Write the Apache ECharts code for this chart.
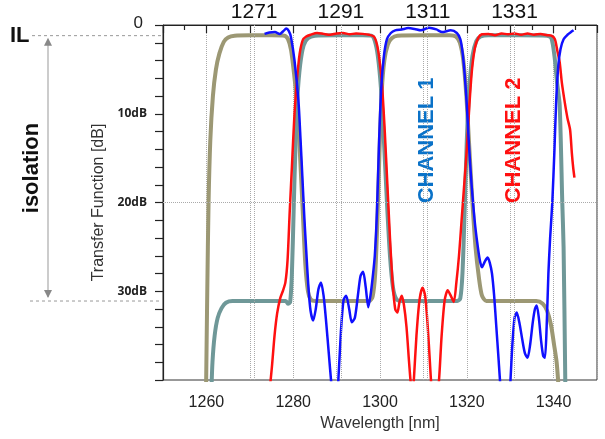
<!DOCTYPE html>
<html>
<head>
<meta charset="utf-8">
<script src="https://cdn.jsdelivr.net/npm/echarts@6/dist/echarts.min.js"></script>
<style>
  html, body { margin: 0; padding: 0; background: #fff; }
  #main { width: 605px; height: 439px; }
</style>
</head>
<body>
<div id="main"></div>
<script>
// channel centre wavelengths (top labels + dotted guides)
const channels = [1271, 1291, 1311, 1331]
const xLabels = [1260, 1280, 1300, 1320, 1340]
const yLabels = [0, 10, 20, 30]
const ilLevel = 1.2
const isoLevel = 31.1

// simulated filter response, channel 1 (olive)
const ch1Model = [
  [1259.9, 42], [1260.2, 30], [1260.5, 20], [1260.9, 13], [1261.5, 8], [1262.2, 5], [1263, 3.2],
  [1264, 1.9], [1265, 1.4], [1266.5, 1.2], [1270, 1.15], [1275, 1.15], [1278, 1.2], [1278.8, 1.6],
  [1279.5, 2.8], [1280.2, 5.5], [1280.8, 8.5], [1281.5, 14], [1282.2, 21], [1282.8, 27], [1283.4, 30],
  [1284, 30.9], [1285, 31.1], [1290, 31.1], [1295, 31.1], [1297.5, 31.1], [1298.3, 30.6], [1298.9, 28],
  [1299.4, 22], [1299.9, 14], [1300.4, 7.5], [1301, 4], [1301.8, 2.2], [1302.7, 1.5], [1304, 1.2],
  [1310, 1.15], [1316, 1.15], [1317.5, 1.3], [1318.4, 2], [1319.2, 4], [1319.9, 8], [1320.6, 14],
  [1321.3, 20], [1322, 25], [1322.8, 28.5], [1323.5, 30.5], [1324.5, 31.1], [1330, 31.1], [1336, 31.1],
  [1337.5, 31.4], [1338.5, 32.2], [1339.4, 33.8], [1340.1, 36], [1340.7, 38], [1341.1, 40.5]
]

// simulated filter response, channel 2 (grey-teal)
const ch2Model = [
  [1261.1, 42], [1261.4, 38], [1261.9, 35], [1262.6, 33], [1263.5, 31.9], [1264.5, 31.3], [1266, 31.1],
  [1272, 31.1], [1278.3, 31.1], [1278.8, 31.4], [1279.3, 31.2], [1279.7, 28], [1280.1, 21], [1280.5, 14],
  [1281, 8], [1281.6, 4.5], [1282.4, 2.3], [1283.4, 1.5], [1285, 1.2], [1290, 1.15], [1296, 1.15],
  [1298, 1.2], [1298.8, 1.8], [1299.5, 3.5], [1300.2, 7], [1300.9, 13], [1301.6, 20], [1302.3, 26],
  [1303, 29.6], [1303.8, 30.9], [1305, 31.1], [1312, 31.1], [1317.8, 31.1], [1318.5, 30.8], [1319, 28],
  [1319.5, 21], [1320, 13], [1320.6, 7], [1321.3, 3.5], [1322.2, 1.8], [1323.2, 1.3], [1325, 1.15],
  [1332, 1.15], [1338.5, 1.2], [1339.5, 1.5], [1340.2, 3.5], [1340.8, 6.5], [1341.4, 9], [1342, 20],
  [1342.3, 25], [1342.7, 40.5]
]

// measured, channel 2 (red)
const ch2Meas = [
  [1274.6, 41], [1275.1, 38.5], [1275.7, 35], [1276.3, 32.5], [1277, 30.8], [1277.6, 30], [1278.2, 29],
  [1278.7, 26.5], [1279.2, 21], [1279.7, 16], [1280.3, 10], [1280.9, 6], [1281.5, 3.2], [1282.2, 1.7],
  [1283, 1.3], [1284, 1.1], [1285.5, 0.9], [1287, 1.0], [1288.5, 1.1], [1290, 0.95], [1291.5, 0.9],
  [1293, 1.05], [1294.5, 0.95], [1296, 1.0], [1297.5, 1.1], [1298.6, 1.3], [1299.3, 2.2], [1299.9, 4],
  [1300.5, 7], [1301.1, 12], [1301.7, 18], [1302.3, 24], [1302.9, 29], [1303.5, 32], [1304, 32.4],
  [1304.5, 31.2], [1305, 30.5], [1305.5, 31.5], [1306.1, 34], [1306.7, 38], [1307.2, 41], [1307.5, 42],
  [1307.8, 40], [1308.4, 35], [1309.1, 31], [1309.8, 29.6], [1310.4, 30.5], [1311, 34], [1311.5, 38],
  [1311.9, 41], [1312.8, 44], [1313.6, 40], [1314.2, 35], [1314.9, 31], [1315.6, 29.9], [1316.3, 30.5],
  [1317, 31.2], [1317.6, 29], [1318.2, 26], [1318.8, 22], [1319.4, 18], [1320, 14], [1320.6, 9],
  [1321.2, 5], [1321.9, 2.5], [1322.7, 1.4], [1323.5, 1.05], [1325, 1.0], [1326.5, 1.15], [1328, 0.95],
  [1329.5, 1.05], [1331, 0.95], [1332.5, 1.1], [1334, 0.95], [1335.5, 1.1], [1337, 1.0], [1338.5, 1.15],
  [1339.5, 1.2], [1340.3, 1.6], [1340.9, 3], [1341.4, 4.2], [1341.9, 6.5], [1342.6, 8.8], [1343.2, 10.5],
  [1343.8, 11.8], [1344.2, 14.4], [1344.5, 16], [1344.8, 17.2]
]

// measured, channel 1 (blue)
const ch1Meas = [
  [1273.4, 1.0], [1274.5, 0.85], [1275.8, 0.8], [1276.9, 1.0], [1277.7, 0.7], [1278.4, 0.4], [1279, 0.7],
  [1279.5, 1.4], [1280.3, 4], [1281.2, 8.5], [1281.7, 13], [1282.2, 18], [1282.6, 22], [1283, 25.4],
  [1283.5, 29.5], [1284, 32.2], [1284.6, 33.3], [1285.2, 32], [1285.8, 29.8], [1286.4, 29], [1287, 30.5],
  [1287.6, 33.5], [1288.2, 37], [1288.8, 40.5], [1289.3, 43], [1289.9, 43], [1290.4, 40], [1291, 34.5],
  [1291.6, 31], [1292.2, 30.5], [1292.9, 32], [1293.5, 33.5], [1294.2, 33], [1294.9, 30.5], [1295.5, 28.3],
  [1296.1, 27.8], [1296.7, 29.5], [1297.3, 31.8], [1297.8, 30.5], [1298.3, 28.5], [1298.8, 26],
  [1299.3, 21], [1299.8, 13], [1300.3, 7], [1300.9, 3.5], [1301.6, 1.6], [1302.5, 0.9], [1303.5, 0.6],
  [1305, 0.5], [1306.5, 0.35], [1308, 0.45], [1309.4, 0.6], [1311.3, 0.3], [1313, 0.5], [1314.3, 0.8],
  [1316.3, 0.6], [1317.7, 0.9], [1318.5, 1.6], [1319, 3], [1319.5, 5.5], [1320, 9], [1320.5, 13.5],
  [1321.1, 18], [1321.8, 22], [1322.4, 24.5], [1323, 26.5], [1323.5, 27.3], [1324.2, 26.6], [1324.8, 26.2],
  [1325.3, 26.8], [1325.8, 28], [1326.3, 30.5], [1326.8, 34], [1327.3, 37.5], [1327.8, 41], [1328.5, 44],
  [1329.4, 44], [1330, 40.5], [1330.5, 36], [1331, 33], [1331.5, 32.4], [1332.1, 33.5], [1332.8, 35.5],
  [1333.4, 37], [1334, 37.5], [1334.6, 36], [1335.2, 33.5], [1335.7, 32], [1336.1, 31.6], [1336.6, 33],
  [1337.1, 35.5], [1337.6, 37.3], [1338, 37.5], [1338.4, 34], [1338.8, 28], [1339.2, 24], [1339.7, 20],
  [1340.2, 14], [1340.6, 8.5], [1341.1, 4.5], [1341.6, 2.7], [1342.3, 1.6], [1343.2, 1.1], [1344, 0.8],
  [1344.6, 0.6]
]

const font = 'Liberation Sans, Arial, sans-serif'
const chart = echarts.init(document.getElementById('main'))

const curve = (data, color, width) => ({
  type: 'line',
  data: data,
  symbol: 'none',
  smooth: 0.25,
  lineStyle: { color: color, width: width },
  itemStyle: { color: color },
  silent: true
})

chart.setOption({
  animation: false,
  grid: { left: 163, right: 8, top: 25, bottom: 59, show: true, borderColor: '#333', borderWidth: 1 },
  xAxis: [{
    type: 'value',
    min: 1250,
    max: 1350,
    interval: 10,
    position: 'bottom',
    axisLine: { lineStyle: { color: '#222', width: 1.2 } },
    axisTick: { length: 8, lineStyle: { color: '#222', width: 1.2 } },
    minorTick: { show: true, splitNumber: 2, length: 5, lineStyle: { color: '#222', width: 1.2 } },
    splitLine: { show: true, lineStyle: { type: 'dotted', color: '#aaa' } },
    axisLabel: {
      margin: 15,
      fontSize: 16,
      color: '#222',
      fontFamily: font,
      formatter: v => xLabels.includes(v) ? String(v) : ''
    },
    name: 'Wavelength [nm]',
    nameLocation: 'middle',
    nameGap: 36,
    nameTextStyle: { fontSize: 16, color: '#333', fontFamily: font }
  }, {
    type: 'value',
    min: 1250,
    max: 1350,
    position: 'top',
    axisLine: { show: false },
    axisTick: { show: false },
    splitLine: { show: false },
    axisLabel: {
      customValues: channels,
      formatter: v => String(v),
      margin: 2,
      fontSize: 21,
      color: '#111',
      fontFamily: font
    }
  }],
  yAxis: {
    type: 'value',
    inverse: true,
    min: 0,
    max: 40,
    interval: 2,
    axisLine: { show: true, lineStyle: { color: '#222', width: 1.2 } },
    axisTick: { length: 8, lineStyle: { color: '#222', width: 1.2 } },
    splitLine: { show: false },
    axisLabel: {
      margin: 16,
      formatter: v => !yLabels.includes(v) ? '' : (v === 0 ? '{z|0}' : '{d|' + v + 'dB}'),
      rich: {
        z: { fontSize: 17, color: '#222', fontFamily: font, padding: [0, 4, 4, 0] },
        d: { fontSize: 12, fontWeight: 'bold', color: '#222', fontFamily: 'Open Sans, sans-serif' }
      }
    },
    name: 'Transfer Function [dB]',
    nameLocation: 'middle',
    nameGap: 51,
    nameTextStyle: { fontSize: 16, color: '#333', fontFamily: font }
  },
  series: [{
    type: 'line',
    data: [],
    z: 1,
    markLine: {
      silent: true,
      symbol: 'none',
      label: { show: false },
      lineStyle: { type: 'dotted', color: '#aaa', width: 1 },
      data: channels.map(c => ({ xAxis: c })).concat([{ yAxis: 20 }])
    }
  },
  curve(ch1Model, '#9c9874', 4),
  curve(ch2Model, '#6f9898', 4),
  curve(ch2Meas, '#ff1010', 2.5),
  curve(ch1Meas, '#1010ff', 2.5)
  ]
})

// annotations on the left (IL / isolation) and channel names
const yIL = chart.convertToPixel({ yAxisIndex: 0 }, ilLevel)
const yIso = chart.convertToPixel({ yAxisIndex: 0 }, isoLevel)
const xAx = chart.convertToPixel({ xAxisIndex: 0 }, 1250)
const c1 = chart.convertToPixel({ xAxisIndex: 0, yAxisIndex: 0 }, [1310.8, 13])
const c2 = chart.convertToPixel({ xAxisIndex: 0, yAxisIndex: 0 }, [1330.8, 13])
const ax = 48

chart.setOption({
  graphic: [
    { type: 'line', shape: { x1: 32, y1: yIL, x2: xAx, y2: yIL }, style: { stroke: '#999', lineWidth: 1, lineDash: [3, 3] } },
    { type: 'line', shape: { x1: 30, y1: yIso, x2: xAx, y2: yIso }, style: { stroke: '#999', lineWidth: 1, lineDash: [3, 3] } },
    { type: 'line', shape: { x1: ax, y1: yIL + 4, x2: ax, y2: yIso - 4 }, style: { stroke: '#999', lineWidth: 1 } },
    { type: 'polygon', shape: { points: [[ax, yIL + 2], [ax - 4, yIL + 10], [ax + 4, yIL + 10]] }, style: { fill: '#888' } },
    { type: 'polygon', shape: { points: [[ax, yIso - 3], [ax - 4, yIso - 11], [ax + 4, yIso - 11]] }, style: { fill: '#888' } },
    { type: 'text', x: 10, y: yIL, style: { text: 'IL', font: 'bold 22px ' + font, fill: '#111', verticalAlign: 'middle' } },
    { type: 'text', x: 32, y: 168, rotation: Math.PI / 2, style: { text: 'isolation', font: 'bold 22px ' + font, fill: '#111', align: 'center', verticalAlign: 'middle' } },
    { type: 'text', x: c1[0], y: c1[1], rotation: Math.PI / 2, style: { text: 'CHANNEL 1', font: 'bold 22px ' + font, fill: '#0a72c8', align: 'center', verticalAlign: 'middle' } },
    { type: 'text', x: c2[0], y: c2[1], rotation: Math.PI / 2, style: { text: 'CHANNEL 2', font: 'bold 22px ' + font, fill: '#ff1010', align: 'center', verticalAlign: 'middle' } }
  ]
})
</script>
</body>
</html>
